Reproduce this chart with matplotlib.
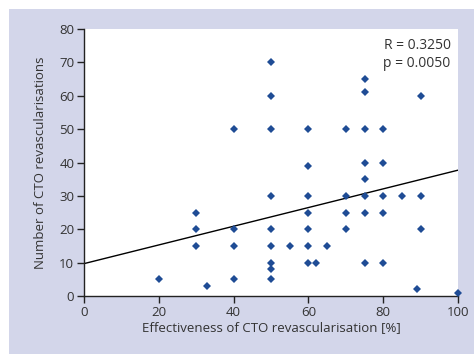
import matplotlib
matplotlib.use("Agg")
import matplotlib.pyplot as plt
from matplotlib.patches import Rectangle
import numpy as np

plt.rcParams['font.family'] = ['Open Sans', 'DejaVu Sans']

effectiveness = [50, 50, 50, 40, 75, 75, 90, 60, 70, 75, 80, 60, 75, 80, 75,
                 50, 60, 70, 75, 80, 85, 90,
                 30, 60, 70, 75, 80,
                 30, 40, 50, 60, 70, 90,
                 30, 40, 50, 55, 60, 65,
                 50, 60, 62, 75, 80,
                 50, 20, 40, 50, 33, 89, 100]
revasc = [70, 60, 50, 50, 65, 61, 60, 50, 50, 50, 50, 39, 40, 40, 35,
          30, 30, 30, 30, 30, 30, 30,
          25, 25, 25, 25, 25,
          20, 20, 20, 20, 20, 20,
          15, 15, 15, 15, 15, 15,
          10, 10, 10, 10, 10,
          8, 5, 5, 5, 3, 2, 1]
fit_intercept = 9.7
fit_slope = 0.28
xticks = [0, 20, 40, 60, 80, 100]
yticks = [0, 10, 20, 30, 40, 50, 60, 70, 80]

W, H = 474, 354
fig = plt.figure(figsize=(W/100, H/100), dpi=100, facecolor='white')
bg = Rectangle((9/W, 0), 1 - 9/W, 1 - 9/H, transform=fig.transFigure,
               facecolor='#d3d6ea', edgecolor='none', zorder=-10)
fig.patches.append(bg)

ax = fig.add_axes([84/W, 1 - 296/H, (458-84)/W, (296-29)/H])
ax.set_facecolor('white')
ax.set_xlim(0, 100)
ax.set_ylim(0, 80)

xs = np.array([0, 100])
ax.plot(xs, fit_intercept + fit_slope * xs, color='black', lw=1.0, zorder=2)
ax.plot(effectiveness, revasc, linestyle='none', marker='D', markersize=4.2,
        color='#1f4c95', markeredgewidth=0, zorder=3, clip_on=False)

for s in ['top', 'right']:
    ax.spines[s].set_visible(False)
for s in ['left', 'bottom']:
    ax.spines[s].set_color('#222222')
    ax.spines[s].set_linewidth(1.0)

ax.set_xticks(xticks)
ax.set_yticks(yticks)
ax.tick_params(direction='out', length=5, width=1, colors='#222222',
               labelsize=9.5, labelcolor='#333333', pad=2)

ax.set_xlabel('Effectiveness of CTO revascularisation [%]', fontsize=9.5,
              color='#333333', labelpad=2)
ax.set_ylabel('Number of CTO revascularisations', fontsize=9.5,
              color='#333333', labelpad=9)

ax.text(0.98, 0.965, 'R = 0.3250\np = 0.0050', transform=ax.transAxes,
        ha='right', va='top', fontsize=10, color='#333333', linespacing=1.25)

fig.savefig('out.png', dpi=100, facecolor='white')
